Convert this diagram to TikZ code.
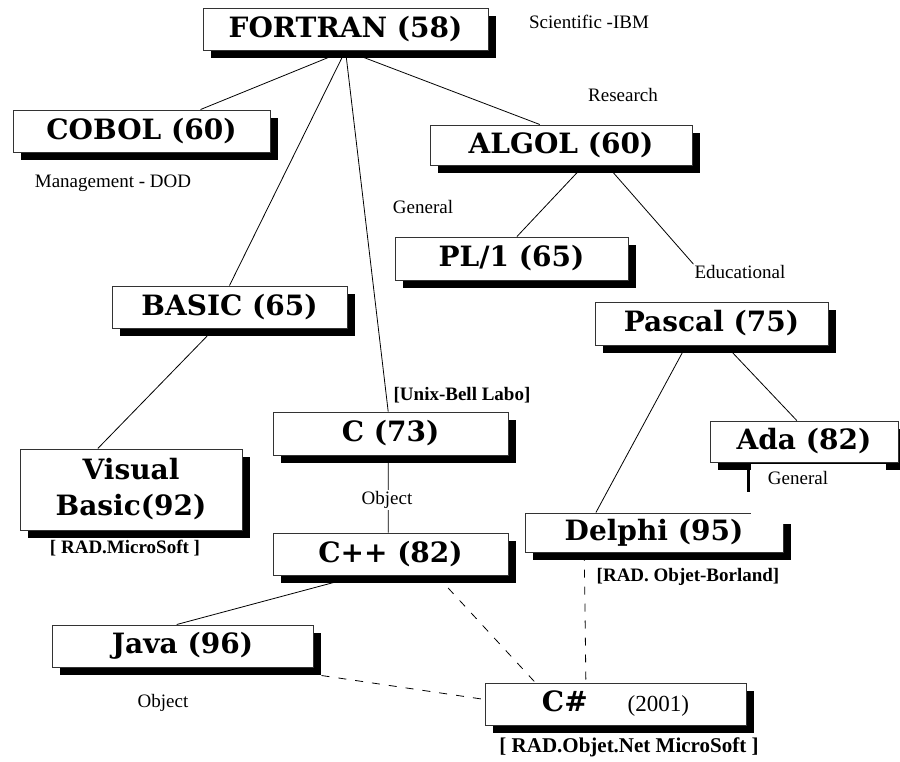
\documentclass[tikz,border=0pt]{standalone}
\usepackage{fontspec}
\setmainfont{Liberation Serif}
\newfontfamily\slabfont{DejaVu Serif}
\usetikzlibrary{shadows,backgrounds}

\tikzset{
  lang/.style={draw=black!80, line width=1pt, fill=white, inner sep=0pt,
    font=\slabfont\bfseries\fontsize{28}{36}\selectfont, align=center,
    drop shadow={shadow xshift=8pt, shadow yshift=-8pt, fill=black, opacity=1}},
  note/.style={inner sep=1pt, font=\fontsize{19}{22}\selectfont},
  tag/.style={inner sep=1pt, font=\bfseries\fontsize{19}{22}\selectfont},
  link/.style={line width=0.8pt},
  weak/.style={line width=0.8pt, dash pattern=on 8pt off 9pt},
}

\begin{document}
\begin{tikzpicture}[x=1pt, y=-1pt]
    \useasboundingbox (0,0) rectangle (900,761);

    \node (fortran) at (345.5,29) [lang, minimum width=285, minimum height=42] {FORTRAN (58)};
    \node (cobol) at (141.5,131) [lang, minimum width=257, minimum height=42] {COBOL (60)};
    \node (algol) at (561,145) [lang, minimum width=262, minimum height=40] {ALGOL (60)};
    \node (pl1) at (511.5,258.5) [lang, minimum width=233, minimum height=43] {PL/1 (65)};
    \node (basic) at (229.5,307) [lang, minimum width=235, minimum height=42] {BASIC (65)};
    \node (pascal) at (711.5,323.5) [lang, minimum width=233, minimum height=43] {Pascal (75)};
    \node (c) at (390.5,433.5) [lang, minimum width=235, minimum height=43] {C (73)};
    \node (ada) at (804,441.5) [lang, minimum width=188, minimum height=41] {Ada (82)};
    \node (vb) at (131,489.5) [lang, minimum width=222, minimum height=81] {Visual\\Basic(92)};
    \node (delphi) at (654,532.5) [lang, minimum width=258, minimum height=39] {Delphi (95)};
    \node (cpp) at (390.5,554) [lang, minimum width=235, minimum height=42] {C++ (82)};
    \node (java) at (182.5,646) [lang, minimum width=261, minimum height=42] {Java (96)};
    \node (csharp) at (615.5,704) [lang, minimum width=261, minimum height=42]
        {C\#\hspace{40pt}{\rmfamily\mdseries\fontsize{23}{24}\selectfont (2001)}};

    % remarks
    \node (sci) at (589,22) [note] {Scientific -IBM};
    \node (res) at (623,95) [note] {Research};
    \node (mgmt) at (113,183) [note] {Management - DOD};
    \node (gen1) at (423,207) [note] {General};
    \node (educ) at (740,272) [note, fill=white] {Educational};
    \node (unix) at (462,395) [tag] {[Unix-Bell Labo]};
    \node (cobj) at (387,500) [note, fill=white] {Object};
    \node (vbtag) at (125,548) [tag] {[ RAD.MicroSoft ]};
    \node (dtag) at (688,577) [tag] {[RAD. Objet-Borland]};
    \node (jobj) at (163,703) [note] {Object};
    \node (cstag) at (629,747) [tag, font=\bfseries\fontsize{21}{22}\selectfont] {[ RAD.Objet.Net MicroSoft ]};

    \fill[white] (751,463.5) rectangle (886,524);
    \draw[line width=3pt] (748,466) -- (748,492);
    \node (gen2) at (798,478) [note] {General};

    \begin{scope}[on background layer]
    \draw[link] (fortran.south) -- (cobol.20);
    \draw[link] (fortran.south) -- (algol.136);
    \draw[link] (fortran.south) -- (basic.north);
    \draw[link] (fortran.south) -- (c.96);
    \draw[link] (algol.-42) -- (pl1.76);
    \draw[link] (algol.-24) -- (educ.north west);
    \draw[link] (basic.235) -- (vb.129);
    \draw[link] (pascal.221) -- (delphi.161);
    \draw[link] (pascal.-57) -- (ada.109);
    \draw[link] (c.264) -- (cpp.96);
    \draw[link] (cpp.215) -- (java.105);
    \draw[weak] (cpp.-25) -- (csharp.165);
    \draw[weak] ([xshift=8pt,yshift=-8pt]java.south east) -- (csharp.178);
    \draw[weak] (delphi.196) -- (csharp.144);
    \end{scope}
\end{tikzpicture}
\end{document}
